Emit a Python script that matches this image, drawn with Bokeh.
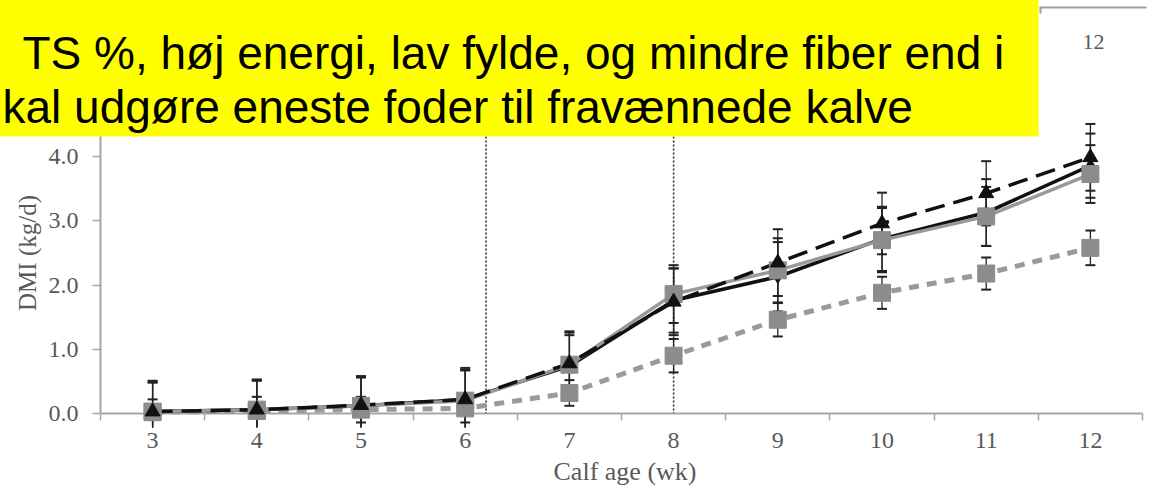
from bokeh.plotting import figure
from bokeh.models import Span, FixedTicker, Range1d, NumeralTickFormatter
from bokeh.core.properties import value
from bokeh.embed import file_html
from bokeh.resources import INLINE

# ---------------- data ----------------
weeks = [3, 4, 5, 6, 7, 8, 9, 10, 11, 12]
y_ticks = [0, 1, 2, 3, 4]
vlines = [6.2, 8.0]

tri_dmi = [0.03, 0.06, 0.13, 0.22, 0.78, 1.74, 2.35, 2.96, 3.43, 3.99]   # black dashed, triangles
blk_dmi = [0.03, 0.06, 0.12, 0.22, 0.74, 1.76, 2.13, 2.72, 3.13, 3.86]   # black solid
gsq_dmi = [0.03, 0.06, 0.12, 0.20, 0.76, 1.86, 2.23, 2.70, 3.07, 3.73]   # grey solid, squares
gdl_dmi = [0.02, 0.04, 0.06, 0.08, 0.32, 0.90, 1.46, 1.88, 2.18, 2.58]   # grey dashed, squares

tri_err = [0.46, 0.46, 0.45, 0.49, 0.50, 0.52, 0.52, 0.48, 0.50, 0.52]
blk_err = [0.45, 0.45, 0.44, 0.45, 0.48, 0.50, 0.54, 0.50, 0.52, 0.50]
gsq_err = [0.48, 0.47, 0.46, 0.48, 0.50, 0.45, 0.50, 0.50, 0.46, 0.45]
gdl_err = [0.20, 0.22, 0.20, 0.22, 0.20, 0.26, 0.26, 0.25, 0.25, 0.27]

banner_line1 = "TS %, høj energi, lav fylde, og mindre fiber end i"
banner_line2 = "kal udgøre eneste foder til fravænnede kalve"
x_title = "Calf age (wk)"
y_title = "DMI (kg/d)"
corner_label = "12"

# ---------------- geometry (page pixels) ----------------
W, H = 1149, 492
PX_PER_WK = 104.2
PX_PER_KG = 64.2
AXIS_X, AXIS_Y = 100, 413     # page px of x=2.5 and y=0
TOP_Y = 92                    # page px of y=5
X0 = 2.5
X1 = X0 + (W - AXIS_X) / PX_PER_WK
Y0, Y1 = 0.0, 5.0
LOW_CLIP = -0.22


def dx(px):
    return X0 + (px - AXIS_X) / PX_PER_WK


def dy(py):
    return (AXIS_Y - py) / PX_PER_KG


p = figure(width=W, height=H, x_range=Range1d(X0, X1), y_range=Range1d(Y0, Y1),
           output_backend="svg", toolbar_location=None,
           min_border_left=AXIS_X, min_border_right=0,
           min_border_top=TOP_Y, min_border_bottom=H - AXIS_Y)
p.outline_line_color = None
p.grid.visible = False
p.background_fill_color = "white"
p.border_fill_color = "white"

AX = "#a6a6a6"
TXT = "#595959"
SERIF = "Liberation Serif"

# y axis
yax = p.yaxis[0]
yax.ticker = FixedTicker(ticks=y_ticks)
yax.formatter = NumeralTickFormatter(format="0.0")
yax.axis_line_color = AX
yax.axis_line_width = 2
yax.major_tick_line_color = AX
yax.major_tick_line_width = 1.5
yax.major_tick_out = 8
yax.major_tick_in = 0
yax.minor_tick_line_color = None
yax.major_label_text_font = SERIF
yax.major_label_text_font_size = "24px"
yax.major_label_text_color = TXT
yax.major_label_standoff = 14
yax.axis_label = y_title
yax.axis_label_text_font = SERIF
yax.axis_label_text_font_size = "25px"
yax.axis_label_text_font_style = "normal"
yax.axis_label_text_color = TXT
yax.axis_label_standoff = 5

# x axis
xax = p.xaxis[0]
xax.ticker = FixedTicker(ticks=weeks, minor_ticks=[w - 0.5 for w in weeks] + [weeks[-1] + 0.5])
xax.bounds = (2.5, 12.5)
xax.axis_line_color = AX
xax.axis_line_width = 2
xax.major_tick_line_color = None
xax.major_tick_out = 0
xax.major_tick_in = 0
xax.minor_tick_line_color = AX
xax.minor_tick_line_width = 1.5
xax.minor_tick_out = 7
xax.minor_tick_in = 0
xax.major_label_text_font = SERIF
xax.major_label_text_font_size = "24px"
xax.major_label_text_color = TXT
xax.major_label_standoff = 12
xax.axis_label = x_title
xax.axis_label_text_font = SERIF
xax.axis_label_text_font_size = "26px"
xax.axis_label_text_font_style = "normal"
xax.axis_label_text_color = TXT
xax.axis_label_standoff = 6

# vertical dotted lines
for v in vlines:
    p.add_layout(Span(location=v, dimension="height", line_color="#222222",
                      line_width=1.5, line_dash="2 2"))

LV = "overlay"   # unclipped drawing level

# error bars
EB = "#222222"
for vals, errs in [(gdl_dmi, gdl_err), (gsq_dmi, gsq_err), (blk_dmi, blk_err), (tri_dmi, tri_err)]:
    hi = [v + e for v, e in zip(vals, errs)]
    lo = [max(v - e, LOW_CLIP) for v, e in zip(vals, errs)]
    p.segment(x0=weeks, y0=lo, x1=weeks, y1=hi, line_color=EB, line_width=1.3, level=LV)
    p.scatter(weeks, hi, marker="dash", size=10, line_color=EB, line_width=2, level=LV)
    p.scatter(weeks, lo, marker="dash", size=10, line_color=EB, line_width=2, level=LV)

GREY_M = "#8c8c8c"
# lines
p.line(weeks, gdl_dmi, line_color="#9a9a9a", line_width=5, line_dash="10 8", level=LV)
p.line(weeks, blk_dmi, line_color="#111111", line_width=3.5, level=LV)
p.line(weeks, gsq_dmi, line_color="#999999", line_width=3.5, level=LV)
p.line(weeks, tri_dmi, line_color="#111111", line_width=3.5, line_dash="20 9", level=LV)
# markers
p.scatter(weeks, gdl_dmi, marker="square", size=17, fill_color=GREY_M, line_color=GREY_M, level=LV)
p.scatter(weeks, blk_dmi, marker="diamond", size=13, fill_color="#111111", line_color="#111111", level=LV)
p.scatter(weeks, gsq_dmi, marker="square", size=17, fill_color=GREY_M, line_color=GREY_M, level=LV)
p.scatter(weeks, tri_dmi, marker="triangle", size=15, fill_color="#111111", line_color="#111111", level=LV)

# fragment of a chart above (top right)
p.segment(x0=[dx(1039), dx(1040)], y0=[dy(7), dy(7)], x1=[dx(1146), dx(1040)], y1=[dy(7), dy(13)],
          line_color="#a0a0a0", line_width=2, level=LV)
p.text(x=[dx(1093)], y=[dy(41)], text=[corner_label], text_align="center",
       text_baseline="middle", text_font=value(SERIF), text_font_size="22px",
       text_color=TXT, level=LV)

# yellow banner
p.quad(left=[dx(-10)], right=[dx(1038)], top=[dy(-10)], bottom=[dy(136)],
       fill_color="#ffff00", fill_alpha=1, line_color=None, level=LV)
p.text(x=[dx(22), dx(2)], y=[dy(52), dy(106)], text=[banner_line1, banner_line2],
       text_align="left", text_baseline="middle", text_font=value("Liberation Sans"),
       text_font_size="46px", text_color="black", level=LV)

open("out.html", "w").write(file_html(p, INLINE))
